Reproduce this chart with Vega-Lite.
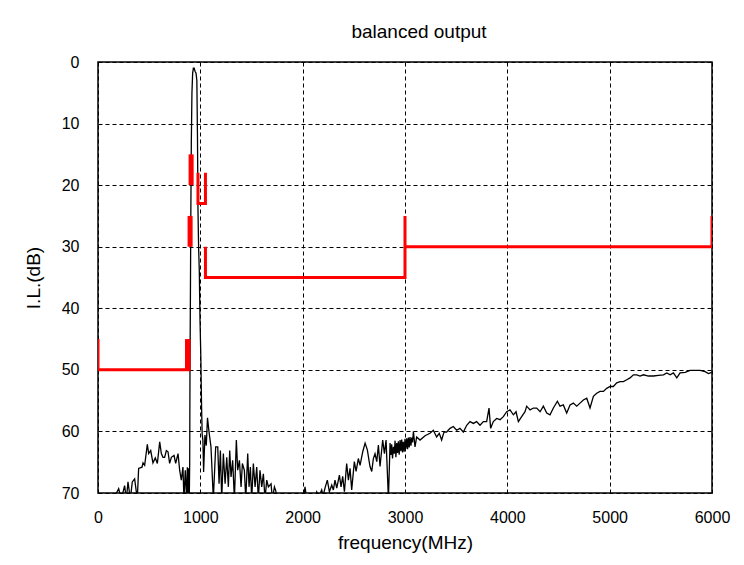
{
  "$schema": "https://vega.github.io/schema/vega-lite/v6.json",
  "width": 614,
  "height": 431,
  "autosize": {"type": "none"},
  "padding": {"left": 98, "top": 62, "right": 32, "bottom": 72},
  "background": "white",
  "title": {"text": "balanced output", "fontSize": 19, "font": "Liberation Sans", "fontWeight": "normal", "color": "black", "offset": 12, "dx": 14},
  "config": {
    "view": {"stroke": "black", "strokeWidth": 1.5},
    "axis": {"labelFont": "Liberation Sans", "titleFont": "Liberation Sans", "labelFontSize": 16, "titleFontSize": 19, "titleFontWeight": "normal", "labelColor": "black", "titleColor": "black", "grid": true, "gridColor": "black", "gridDash": [4, 3], "gridOpacity": 1, "gridWidth": 1, "ticks": false, "domain": false, "labelFlush": false, "labelOverlap": false}
  },
  "datasets": {
    "meas": [
      {"f":150,"v":71},{"f":202,"v":69.3},{"f":228,"v":71},{"f":260,"v":68.8},{"f":277,"v":71},{"f":293,"v":68.2},{"f":316,"v":71},{"f":335,"v":68.2},{"f":358,"v":67.7},{"f":384,"v":71},
      {"f":397,"v":66.0},{"f":430,"v":65.8},{"f":440,"v":65.1},{"f":456,"v":65.5},{"f":482,"v":62.1},{"f":495,"v":63.6},{"f":515,"v":63.1},{"f":537,"v":65.1},{"f":560,"v":64.3},{"f":580,"v":65.2},
      {"f":603,"v":61.7},{"f":619,"v":63.6},{"f":635,"v":64.2},{"f":651,"v":64.2},{"f":668,"v":63.1},{"f":684,"v":63.3},{"f":700,"v":65.2},{"f":717,"v":64.2},{"f":743,"v":63.9},{"f":759,"v":65.2},
      {"f":782,"v":63.6},{"f":798,"v":66.3},{"f":814,"v":67.9},{"f":830,"v":65.8},{"f":840,"v":71},{"f":853,"v":66.3},{"f":866,"v":71},{"f":873,"v":65.8},{"f":880,"v":71},{"f":886,"v":66},
      {"f":892,"v":71},{"f":896,"v":65},{"f":899,"v":50},{"f":903,"v":38},{"f":907,"v":25},{"f":912,"v":13},{"f":918,"v":5},{"f":925,"v":1.8},{"f":932,"v":1.0},{"f":940,"v":1.0},
      {"f":948,"v":1.5},{"f":958,"v":1.8},{"f":966,"v":3},{"f":972,"v":12},{"f":977,"v":24},{"f":983,"v":30},{"f":990,"v":34},{"f":997,"v":42},{"f":1005,"v":48},{"f":1012,"v":56},
      {"f":1018,"v":60.5},{"f":1025,"v":61.4},{"f":1032,"v":66.6},{"f":1045,"v":60.6},{"f":1058,"v":62.3},{"f":1070,"v":57.8},{"f":1085,"v":60.1},{"f":1104,"v":62.5},{"f":1127,"v":71},{"f":1150,"v":62.5},
      {"f":1170,"v":62.5},{"f":1183,"v":68.5},{"f":1196,"v":63.1},{"f":1209,"v":71},{"f":1225,"v":63.6},{"f":1242,"v":68.5},{"f":1258,"v":64.2},{"f":1274,"v":69},{"f":1287,"v":63.1},{"f":1300,"v":67.4},
      {"f":1316,"v":64.7},{"f":1333,"v":71},{"f":1352,"v":61.4},{"f":1365,"v":66.3},{"f":1382,"v":64.7},{"f":1398,"v":69},{"f":1411,"v":65.2},{"f":1430,"v":66.3},{"f":1444,"v":71},{"f":1463,"v":63.6},
      {"f":1476,"v":69},{"f":1489,"v":65.8},{"f":1502,"v":71},{"f":1518,"v":65.2},{"f":1535,"v":69},{"f":1551,"v":65.8},{"f":1567,"v":71},{"f":1583,"v":66.3},{"f":1600,"v":69},{"f":1616,"v":66.9},
      {"f":1632,"v":71},{"f":1649,"v":67.9},{"f":1665,"v":69},{"f":1691,"v":68.5},{"f":1704,"v":71},{"f":1724,"v":69},{"f":1737,"v":69.6},{"f":1747,"v":71},{"f":1760,"v":72},{"f":2000,"v":72},
      {"f":2023,"v":69},{"f":2040,"v":71},{"f":2120,"v":71},{"f":2137,"v":69.8},{"f":2160,"v":70.5},{"f":2186,"v":69.5},{"f":2200,"v":70.5},{"f":2218,"v":69.2},{"f":2241,"v":67.9},{"f":2261,"v":69.8},
      {"f":2284,"v":68.7},{"f":2300,"v":69.5},{"f":2316,"v":67.9},{"f":2333,"v":69.2},{"f":2359,"v":67.1},{"f":2375,"v":69},{"f":2391,"v":67.3},{"f":2408,"v":69.8},{"f":2430,"v":65.2},{"f":2447,"v":67.9},
      {"f":2463,"v":66},{"f":2479,"v":69.5},{"f":2505,"v":64.9},{"f":2522,"v":66.5},{"f":2544,"v":64.4},{"f":2561,"v":65.5},{"f":2587,"v":63.3},{"f":2610,"v":61.9},{"f":2632,"v":63},{"f":2658,"v":65.7},
      {"f":2675,"v":66.5},{"f":2691,"v":64.4},{"f":2707,"v":63.6},{"f":2724,"v":64.9},{"f":2740,"v":62.2},{"f":2756,"v":65.7},{"f":2782,"v":61.4},{"f":2799,"v":63.6},{"f":2815,"v":61.4},{"f":2838,"v":71},
      {"f":2854,"v":61.9},{"f":2862,"v":63.8},{"f":2870,"v":62.1},{"f":2878,"v":64.4},{"f":2887,"v":62.5},{"f":2895,"v":63.6},{"f":2903,"v":61.5},{"f":2911,"v":64.2},{"f":2919,"v":61.9},{"f":2927,"v":63.5},
      {"f":2935,"v":61.6},{"f":2943,"v":63.8},{"f":2952,"v":61.4},{"f":2960,"v":63.2},{"f":2968,"v":61.3},{"f":2976,"v":63.4},{"f":2984,"v":61.7},{"f":2992,"v":63.3},{"f":3000,"v":61.2},{"f":3008,"v":62.8},
      {"f":3017,"v":61.1},{"f":3025,"v":62.9},{"f":3033,"v":61.0},{"f":3041,"v":62.6},{"f":3049,"v":60.9},{"f":3058,"v":62.3},{"f":3066,"v":61.0},{"f":3074,"v":61.8},{"f":3082,"v":60},{"f":3098,"v":62.5},
      {"f":3114,"v":60.9},{"f":3147,"v":61.4},{"f":3196,"v":60.7},{"f":3244,"v":60.3},{"f":3277,"v":59.8},{"f":3309,"v":60.9},{"f":3335,"v":60.3},{"f":3358,"v":61.4},{"f":3381,"v":60.1},{"f":3407,"v":60.1},
      {"f":3440,"v":59.5},{"f":3472,"v":59.2},{"f":3505,"v":59.8},{"f":3537,"v":59.5},{"f":3570,"v":60.1},{"f":3603,"v":59},{"f":3635,"v":58.4},{"f":3668,"v":58.7},{"f":3700,"v":58.4},{"f":3733,"v":59},
      {"f":3766,"v":58.4},{"f":3798,"v":58.4},{"f":3821,"v":56.2},{"f":3837,"v":59.5},{"f":3863,"v":58.4},{"f":3896,"v":57.9},{"f":3929,"v":58.1},{"f":3961,"v":57.6},{"f":3994,"v":56.8},{"f":4026,"v":56.5},
      {"f":4059,"v":57.3},{"f":4085,"v":56.8},{"f":4108,"v":58.4},{"f":4140,"v":57.6},{"f":4173,"v":56.8},{"f":4189,"v":55.9},{"f":4222,"v":56.5},{"f":4255,"v":56.2},{"f":4287,"v":56.2},{"f":4320,"v":56.8},
      {"f":4352,"v":55.9},{"f":4385,"v":57},{"f":4417,"v":57.3},{"f":4450,"v":56.2},{"f":4489,"v":55.1},{"f":4515,"v":55.9},{"f":4547,"v":55.7},{"f":4580,"v":57},{"f":4613,"v":55.7},{"f":4645,"v":55.4},
      {"f":4678,"v":55.9},{"f":4710,"v":55.4},{"f":4743,"v":54.9},{"f":4776,"v":54.6},{"f":4808,"v":56.2},{"f":4841,"v":54.3},{"f":4873,"v":53.8},{"f":4906,"v":53.5},{"f":4939,"v":53.5},{"f":4971,"v":53},
      {"f":5004,"v":52.7},{"f":5036,"v":52.7},{"f":5069,"v":52.1},{"f":5102,"v":51.9},{"f":5134,"v":51.9},{"f":5167,"v":51.6},{"f":5199,"v":51.3},{"f":5232,"v":50.8},{"f":5265,"v":50.8},{"f":5297,"v":51.0},
      {"f":5330,"v":50.8},{"f":5379,"v":51.0},{"f":5428,"v":51.0},{"f":5477,"v":50.9},{"f":5526,"v":50.8},{"f":5558,"v":50.5},{"f":5591,"v":50.8},{"f":5623,"v":50.5},{"f":5656,"v":51.3},{"f":5688,"v":50.5},
      {"f":5737,"v":50.4},{"f":5786,"v":50.1},{"f":5835,"v":50.1},{"f":5884,"v":50.1},{"f":5933,"v":50.3},{"f":5965,"v":50.6},{"f":5998,"v":50.4}
    ],
    "mask": [
      {"seg":"A","i":1,"f":0,"v":45},{"seg":"A","i":2,"f":0,"v":50},{"seg":"A","i":3,"f":890,"v":50},{"seg":"A","i":4,"f":890,"v":45},
      {"seg":"A2","i":1,"f":865,"v":45},{"seg":"A2","i":2,"f":865,"v":50},
      {"seg":"B","i":1,"f":890,"v":25},{"seg":"B","i":2,"f":890,"v":30},
      {"seg":"B2","i":1,"f":910,"v":25},{"seg":"B2","i":2,"f":910,"v":30},
      {"seg":"C","i":1,"f":900,"v":15},{"seg":"C","i":2,"f":900,"v":20},
      {"seg":"C2","i":1,"f":920,"v":15},{"seg":"C2","i":2,"f":920,"v":20},
      {"seg":"D","i":1,"f":977,"v":18},{"seg":"D","i":2,"f":977,"v":23},{"seg":"D","i":3,"f":1050,"v":23},{"seg":"D","i":4,"f":1050,"v":18},
      {"seg":"E","i":1,"f":1050,"v":30},{"seg":"E","i":2,"f":1050,"v":35},{"seg":"E","i":3,"f":3000,"v":35},{"seg":"E","i":4,"f":3000,"v":25},
      {"seg":"F","i":1,"f":3000,"v":30},{"seg":"F","i":2,"f":6000,"v":30},{"seg":"F","i":3,"f":6000,"v":25}
    ]
  },
  "layer": [
    {
      "data": {"name": "meas"},
      "mark": {"type": "line", "color": "black", "strokeWidth": 1.3, "clip": true},
      "encoding": {
        "x": {"field": "f", "type": "quantitative", "scale": {"domain": [0, 6000], "nice": false}, "axis": {"values": [0,1000,2000,3000,4000,5000,6000], "format": "d", "title": "frequency(MHz)", "labelPadding": 16, "titlePadding": 8}},
        "y": {"field": "v", "type": "quantitative", "scale": {"domain": [0, 70], "reverse": true, "nice": false}, "axis": {"values": [0,10,20,30,40,50,60,70], "format": "d", "title": "I.L.(dB)", "labelPadding": 19, "titlePadding": 18}},
        "order": {"field": "f", "type": "quantitative"}
      }
    },
    {
      "data": {"name": "mask"},
      "mark": {"type": "line", "color": "#ff0000", "strokeWidth": 3, "clip": true, "strokeCap": "butt"},
      "encoding": {
        "x": {"field": "f", "type": "quantitative"},
        "y": {"field": "v", "type": "quantitative"},
        "detail": {"field": "seg"},
        "order": {"field": "i", "type": "quantitative"}
      }
    }
  ]
}
